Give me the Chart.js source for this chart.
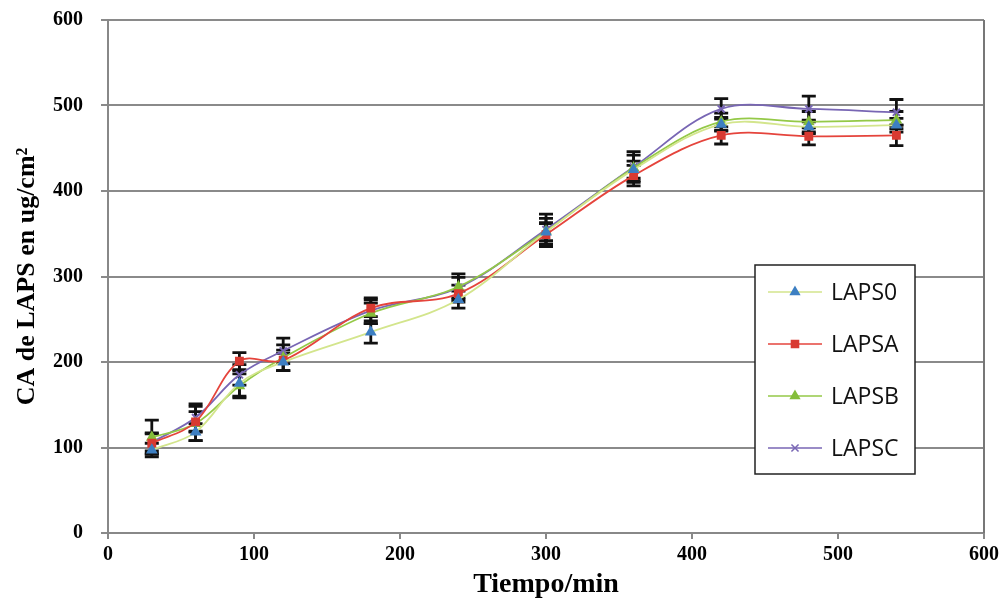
<!DOCTYPE html>
<html>
<head>
<meta charset="utf-8">
<script src="https://cdn.jsdelivr.net/npm/chart.js@4/dist/chart.umd.min.js"></script>
<style>
  html, body { margin: 0; padding: 0; background: #fff; }
  #wrap { width: 1004px; height: 602px; }
</style>
</head>
<body>
<div id="wrap"><canvas id="laps" width="1004" height="602"></canvas></div>
<script>
// tiempo (min)
var tiempos = [30, 60, 90, 120, 180, 240, 300, 360, 420, 480, 540];

var laps0 = [97, 118, 175, 200, 235, 273, 352, 425, 478, 475, 477];
var lapsA = [105, 130, 201, 202, 263, 280, 349, 418, 465, 464, 465];
var lapsB = [112, 128, 172, 205, 257, 288, 353, 427, 481, 481, 483];
var lapsC = [106, 135, 185, 213, 260, 287, 355, 428, 496, 496, 492];

// desviaciones (barras de error)
var err0 = [8, 10, 15, 10, 13, 10, 10, 10, 8, 8, 8];
var errA = [12, 12, 10, 12, 10, 10, 14, 12, 10, 10, 12];
var errB = [20, 20, 14, 15, 12, 15, 15, 15, 10, 12, 10];
var errC = [10, 16, 12, 15, 15, 12, 18, 18, 12, 15, 15];

var yTicks = [0, 100, 200, 300, 400, 500, 600];
var xTicks = [0, 100, 200, 300, 400, 500, 600];

function pts(vals) {
    return tiempos.map(function (t, i) { return {x: t, y: vals[i]}; });
}

var errorBars = {
    id: 'errorBars',
    beforeDatasetsDraw: function (chart) {
        var ctx = chart.ctx;
        var yScale = chart.scales.y;
        ctx.save();
        ctx.strokeStyle = '#111';
        ctx.lineWidth = 2.8;
        chart.data.datasets.forEach(function (ds, di) {
            var meta = chart.getDatasetMeta(di);
            meta.data.forEach(function (el, i) {
                var v = ds.data[i].y, e = ds.errors[i];
                var top = yScale.getPixelForValue(v + e);
                var bot = yScale.getPixelForValue(v - e);
                ctx.beginPath();
                ctx.moveTo(el.x, top); ctx.lineTo(el.x, bot);
                ctx.moveTo(el.x - 7, top); ctx.lineTo(el.x + 7, top);
                ctx.moveTo(el.x - 7, bot); ctx.lineTo(el.x + 7, bot);
                ctx.stroke();
            });
        });
        ctx.restore();
    }
};

var frameAndLegend = {
    id: 'frameAndLegend',
    afterDraw: function (chart) {
        var ctx = chart.ctx;
        var a = chart.chartArea;
        ctx.save();
        // right border of the plot
        ctx.strokeStyle = '#777';
        ctx.lineWidth = 2;
        ctx.beginPath();
        ctx.moveTo(a.right, a.top); ctx.lineTo(a.right, a.bottom);
        ctx.stroke();

        // legend box
        var bx = 755, by = 265, bw = 160, bh = 209;
        ctx.fillStyle = '#fff';
        ctx.fillRect(bx, by, bw, bh);
        ctx.strokeStyle = '#222';
        ctx.lineWidth = 1.5;
        ctx.strokeRect(bx, by, bw, bh);

        ctx.font = '23px "Open Sans", sans-serif';
        ctx.textBaseline = 'middle';
        chart.data.datasets.forEach(function (ds, i) {
            var yy = by + 27 + i * 52;
            ctx.strokeStyle = ds.borderColor;
            ctx.lineWidth = 1.5;
            ctx.beginPath();
            ctx.moveTo(bx + 13, yy); ctx.lineTo(bx + 67, yy);
            ctx.stroke();
            ctx.fillStyle = ds.pointBackgroundColor;
            ctx.strokeStyle = ds.pointBorderColor;
            Chart.helpers.drawPoint(ctx, {
                pointStyle: ds.pointStyle, radius: 5, rotation: 0,
                borderWidth: 1.5
            }, bx + 40, yy);
            ctx.fillStyle = '#111';
            ctx.fillText(ds.label, bx + 76, yy + 1);
        });
        ctx.restore();
    }
};

var ctx = document.getElementById('laps').getContext('2d');
var myChart = new Chart(ctx, {
    type: 'line',
    data: {
        datasets: [{
            label: 'LAPS0',
            data: pts(laps0),
            errors: err0,
            borderColor: '#d3e58c',
            pointStyle: 'triangle',
            pointBackgroundColor: '#3d7fc2',
            pointBorderColor: '#3d7fc2',
            pointRadius: 5,
            borderWidth: 1.8,
            tension: 0.35},
          {
            label: 'LAPSA',
            data: pts(lapsA),
            errors: errA,
            borderColor: '#e5443c',
            pointStyle: 'rect',
            pointBackgroundColor: '#d83a32',
            pointBorderColor: '#d83a32',
            pointRadius: 5,
            borderWidth: 1.8,
            tension: 0.35},
          {
            label: 'LAPSB',
            data: pts(lapsB),
            errors: errB,
            borderColor: '#94c947',
            pointStyle: 'triangle',
            pointBackgroundColor: '#84be3a',
            pointBorderColor: '#84be3a',
            pointRadius: 5,
            borderWidth: 1.8,
            tension: 0.35},
          {
            label: 'LAPSC',
            data: pts(lapsC),
            errors: errC,
            borderColor: '#7866b4',
            pointStyle: 'crossRot',
            pointBackgroundColor: '#7866b4',
            pointBorderColor: '#7866b4',
            pointRadius: 5,
            pointBorderWidth: 2,
            borderWidth: 1.8,
            tension: 0.35}
        ]
    },
    options: {
        responsive: false,
        animation: false,
        layout: { padding: { top: 20, right: 20, left: 0, bottom: 0 } },
        plugins: {
            legend: { display: false },
            tooltip: { enabled: false }
        },
        scales: {
            x: {
                type: 'linear',
                min: 0, max: 600,
                afterBuildTicks: function (s) { s.ticks = xTicks.map(function (v) { return {value: v}; }); },
                afterFit: function (s) { s.height = 69; },
                grid: { drawOnChartArea: false, drawTicks: true, tickLength: 6, color: '#888', lineWidth: 2 },
                border: { color: '#888', width: 2 },
                ticks: { color: '#000', padding: 4, maxRotation: 0,
                         font: { family: '"Liberation Serif", serif', weight: 'bold', size: 20 } },
                title: { display: true, text: 'Tiempo/min', color: '#000', padding: { top: 0, bottom: 0 },
                         font: { family: '"Liberation Serif", serif', weight: 'bold', size: 28 } }
            },
            y: {
                min: 0, max: 600,
                afterBuildTicks: function (s) { s.ticks = yTicks.map(function (v) { return {value: v}; }); },
                afterFit: function (s) { s.width = 108; s.paddingTop = 9; s.paddingBottom = 9; },
                grid: { color: '#8a8a8a', lineWidth: 2, tickLength: 7 },
                border: { color: '#888', width: 2 },
                ticks: { color: '#000', padding: 18,
                         font: { family: '"Liberation Serif", serif', weight: 'bold', size: 20 } },
                title: { display: true, text: 'CA de LAPS en ug/cm²', color: '#000', padding: { top: 12, bottom: 0 },
                         font: { family: '"Liberation Serif", serif', weight: 'bold', size: 26 } }
            }
        }
    },
    plugins: [errorBars, frameAndLegend]
});
</script>
</body>
</html>
